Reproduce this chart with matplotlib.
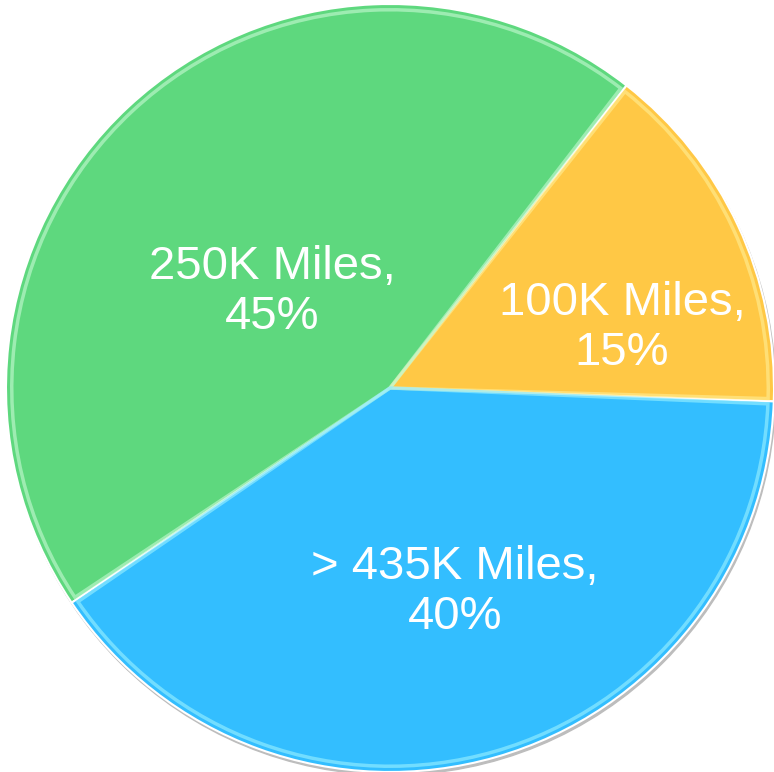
import matplotlib.pyplot as plt
import numpy as np

# Mileage share (percent), counter-clockwise from the right
categories = ["100K Miles", "250K Miles", "> 435K Miles"]
shares = [15, 45, 40]
colors = ["#FFC845", "#5ED87E", "#33BEFF"]
rim_colors = ["#FFE98A", "#B8F5C8", "#8DEBFF"]
# label centres, in units of the pie radius
label_pos = [(0.604, 0.156), (-0.307, 0.25), (0.169, -0.531)]


def main():
    fig = plt.figure(figsize=(7.74, 7.72), dpi=100)
    ax = fig.add_axes([0, 0, 1, 1])
    ax.axis('off')

    # soft grey shadow under the disc
    shadow = plt.Circle((0.004, -0.008), 1.0, color="#bdbdbd", zorder=0)
    ax.add_patch(shadow)

    wedges, _ = ax.pie(
        shares, colors=colors, startangle=-2, counterclock=True,
        radius=1.0, wedgeprops=dict(edgecolor="white", linewidth=1.5),
    )

    # bevel: lighter stroke just inside each slice
    for w, rc in zip(wedges, rim_colors):
        inner = plt.matplotlib.patches.Wedge(
            (0, 0), 0.985, w.theta1 + 0.4, w.theta2 - 0.4,
            facecolor="none", edgecolor=rc, linewidth=2.5, alpha=0.7, zorder=3)
        ax.add_patch(inner)

    for (x, y), cat, val in zip(label_pos, categories, shares):
        ax.text(x, y, f"{cat},\n{val}%", ha="center", va="center",
                color="white", fontsize=34, family="Liberation Sans",
                linespacing=1.2, zorder=5)

    r_px = 384.0
    ax.set_xlim(-390 / r_px, (774 - 390) / r_px)
    ax.set_ylim(-(772 - 388) / r_px, 388 / r_px)
    ax.set_aspect('auto')

    fig.savefig("out.png", dpi=100, facecolor="white")


if __name__ == "__main__":
    main()
